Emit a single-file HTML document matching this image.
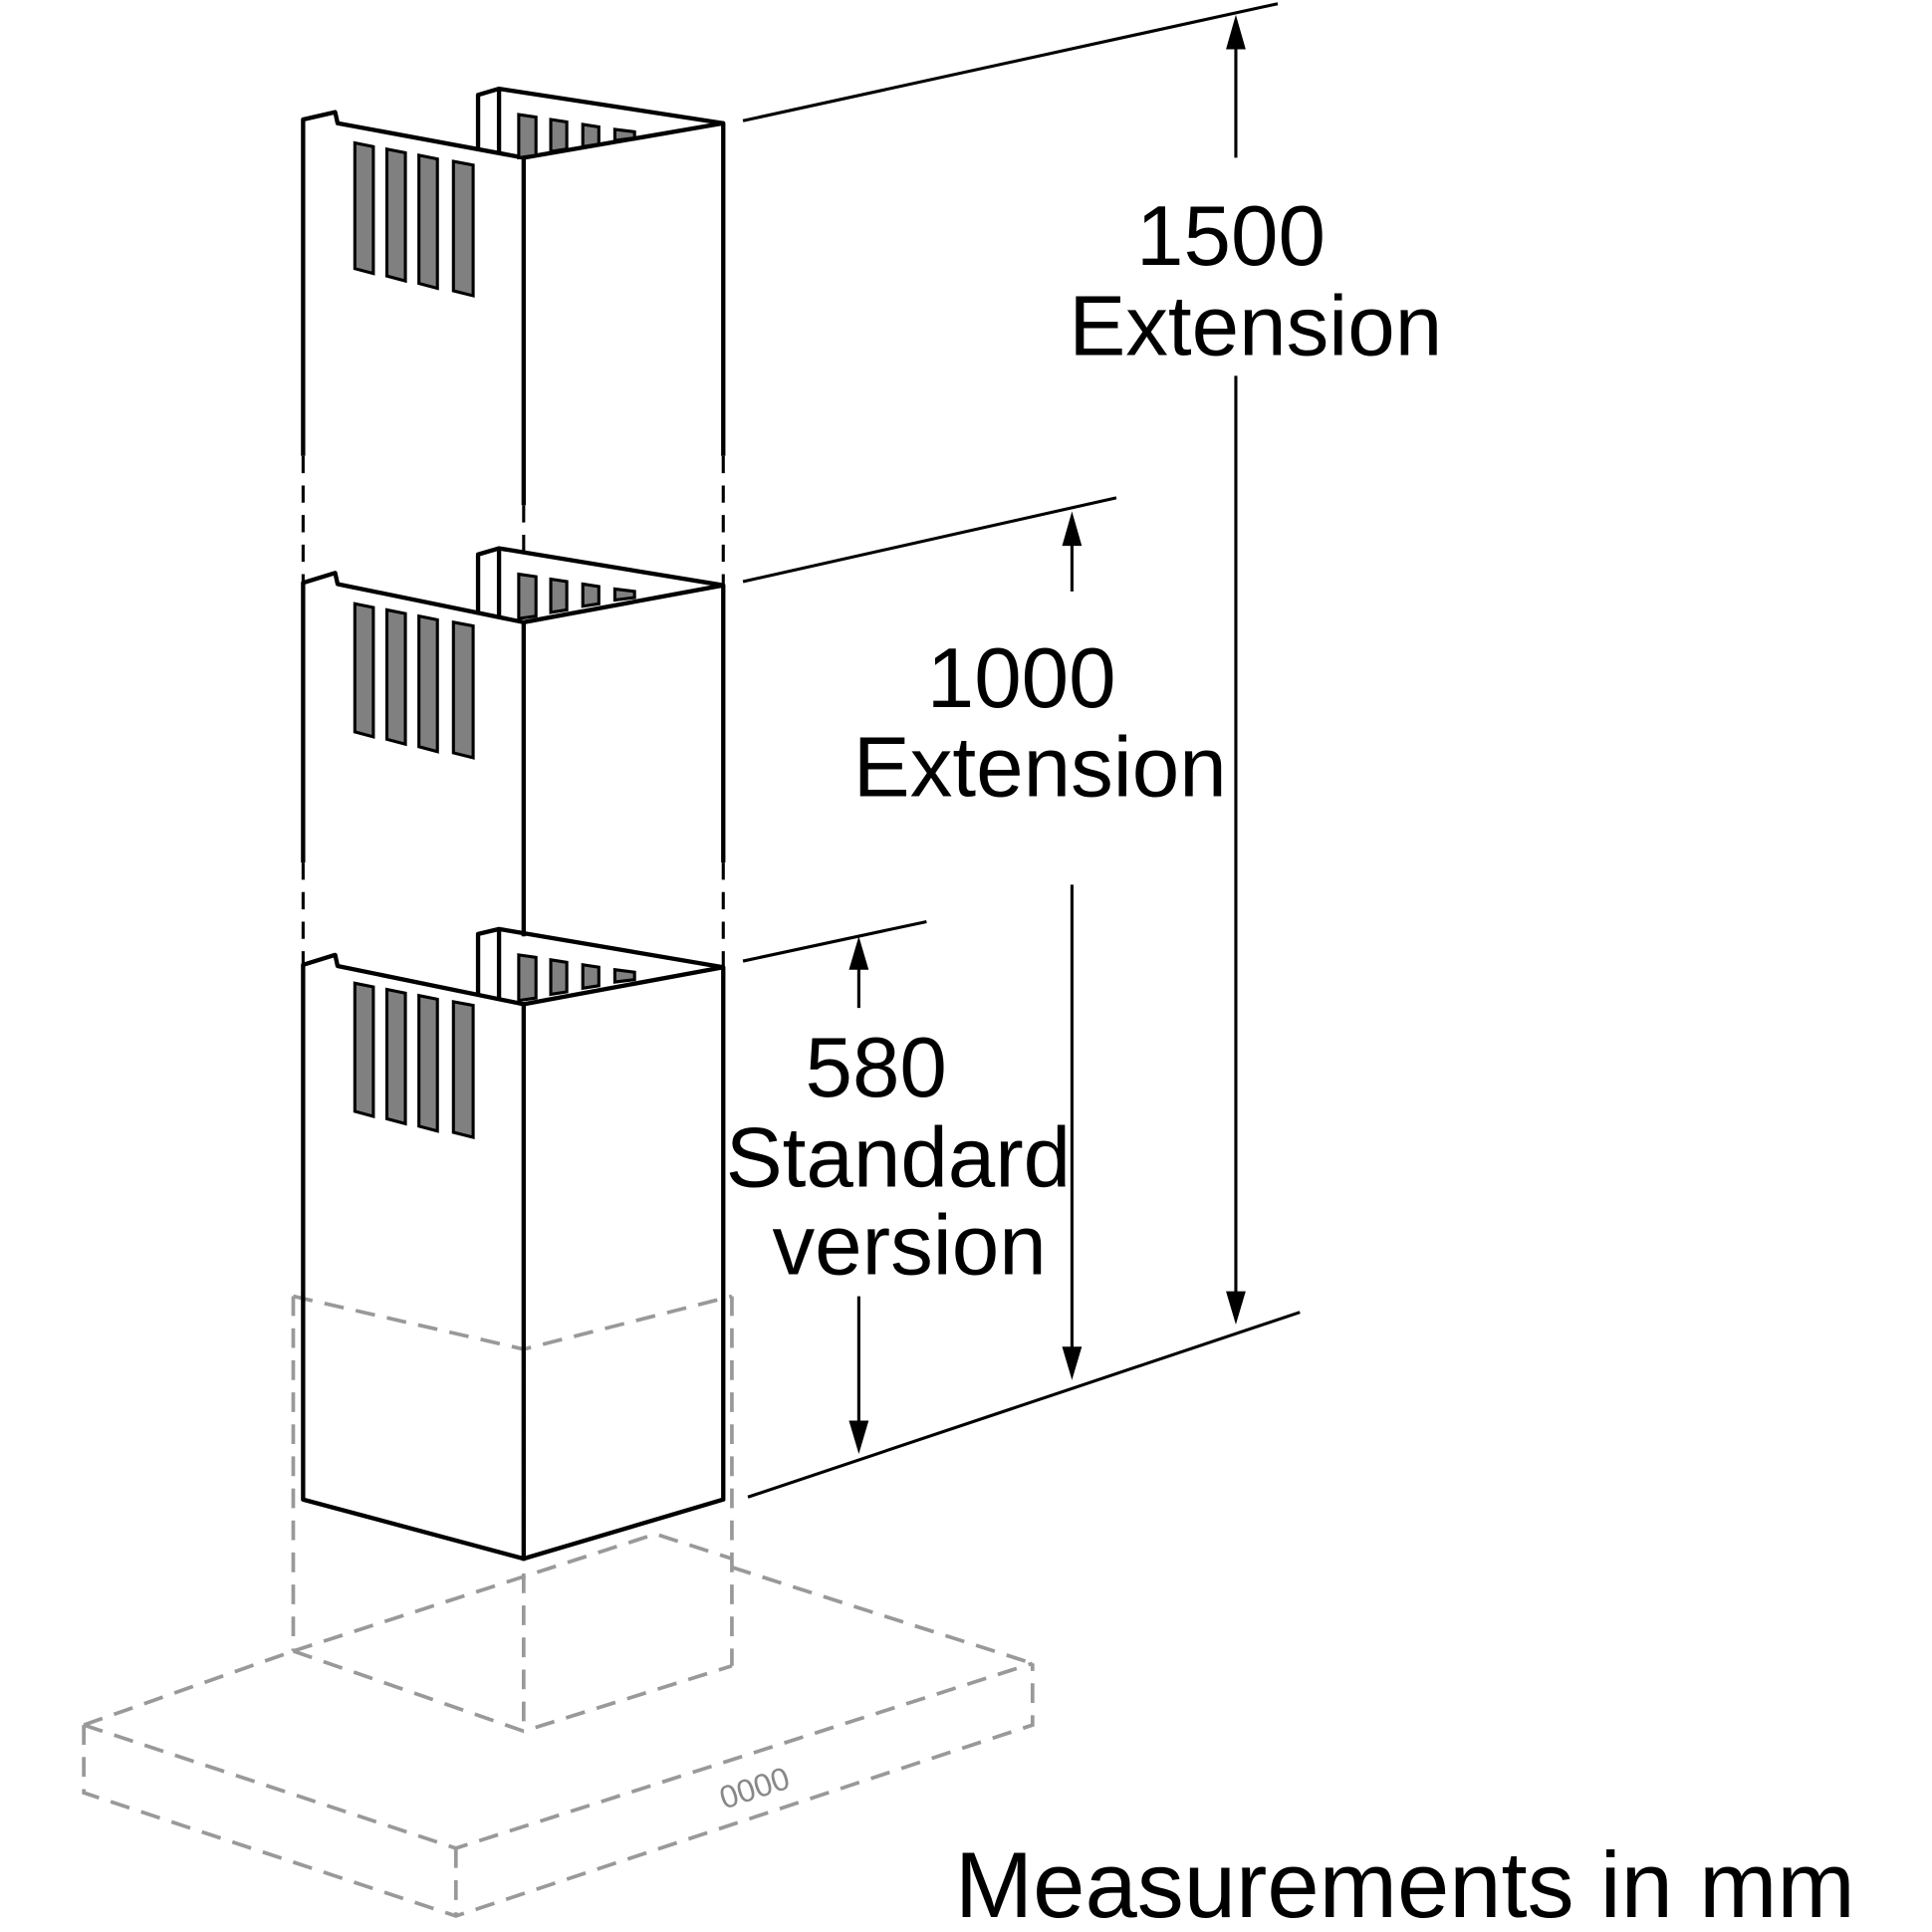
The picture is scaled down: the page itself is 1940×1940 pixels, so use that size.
<!DOCTYPE html>
<html><head><meta charset="utf-8"><style>
html,body{margin:0;padding:0;background:#fff;}
svg{display:block;}
text{font-family:"Liberation Sans",sans-serif;fill:#000;}
</style></head><body>
<svg width="1940" height="1940" viewBox="0 0 1568 1568" xmlns="http://www.w3.org/2000/svg">
<g fill="none" stroke="#999" stroke-width="3" stroke-dasharray="16,10">
<path d="M238,1052 L425,1095 L594,1052"/>
<path d="M238,1052 V1340 M594,1052 V1352 M425,1095 V1405"/>
<path d="M238,1340 L425,1405 L594,1352"/>
<path d="M238,1340 L532,1245 L594,1265"/>
<path d="M68,1400 L238,1340 M594,1272 L838,1350"/>
<path d="M68,1400 L370,1500 L838,1350"/>
<path d="M68,1400 V1455 L370,1555 L838,1400 V1350 M370,1500 V1555"/>
</g>
<text x="612" y="1460" font-size="26" style="fill:#888" transform="rotate(-18 612 1450)" text-anchor="middle">0000</text>

<g fill="none" stroke="#000" stroke-width="3.5" stroke-linejoin="round">
<path d="M246,370 V97 L272,91 L274,100 L425,128 L587,100 V370"/>
<path d="M425,128 V410"/>
<path d="M388,122 V77 L405,72 L587,100 M405,72 V125"/>
<path d="M246,700 V473 L272,465 L274,474 L425,505 L587,475 V700"/>
<path d="M425,505 V760"/>
<path d="M388,498 V450 L405,445 L587,475 M405,445 V500"/>
<path d="M246,783 L272,775 L274,784 L425,815 L587,785 V1217 L425,1265 L246,1217 Z"/>
<path d="M425,815 V1265"/>
<path d="M388,808 V758 L405,754 L587,785 M405,754 V810"/>
</g>
<g stroke="#000" stroke-width="2.5" stroke-dasharray="14,10" fill="none">
<path d="M246,370 V473 M587,370 V475 M425,410 V450"/>
<path d="M246,700 V783 M587,700 V785"/>
</g>
<g fill="#808080" stroke="#000" stroke-width="2.5">
<polygon points="288,116 303,119 303,222 288,218"/>
<polygon points="314,121 329,124 329,228 314,224"/>
<polygon points="340,126 355,129 355,234 340,230"/>
<polygon points="368,131 384,134 384,240 368,236"/>
<polygon points="288,490 303,493 303,598 288,594"/>
<polygon points="314,495 329,498 329,604 314,600"/>
<polygon points="340,500 355,503 355,610 340,606"/>
<polygon points="368,505 384,508 384,615 368,611"/>
<polygon points="288,798 303,801 303,906 288,902"/>
<polygon points="314,803 329,806 329,912 314,908"/>
<polygon points="340,808 355,811 355,918 340,914"/>
<polygon points="368,813 384,816 384,923 368,919"/>
<polygon points="421,93 435,95 435,126 421,128"/>
<polygon points="447,97 460,99 460,121 447,123"/>
<polygon points="473,101 486,103 486,117 473,119"/>
<polygon points="499,105 515,107 515,112 499,114"/>
<polygon points="421,466 435,468 435,500 421,502"/>
<polygon points="447,470 460,472 460,495 447,497"/>
<polygon points="473,474 486,476 486,490 473,492"/>
<polygon points="499,478 515,480 515,485 499,487"/>
<polygon points="421,775 435,777 435,810 421,812"/>
<polygon points="447,779 460,781 460,805 447,807"/>
<polygon points="473,783 486,785 486,800 473,802"/>
<polygon points="499,787 515,789 515,795 499,797"/>
</g>
<g stroke="#000" stroke-width="2.5" fill="none">
<path d="M603,98 L1037,3"/>
<path d="M603,472 L906,404"/>
<path d="M603,780 L752,748"/>
<path d="M607,1215 L1055,1065"/>
<path d="M1003,35 V128 M1003,305 V1052"/>
<path d="M870,440 V480 M870,718 V1098"/>
<path d="M697,782 V818 M697,1052 V1158"/>
</g>
<g fill="#000">
<polygon points="1003,12 995,40 1011,40"/>
<polygon points="1003,1075 995,1048 1011,1048"/>
<polygon points="870,415 862,443 878,443"/>
<polygon points="870,1120 862,1093 878,1093"/>
<polygon points="697,760 689,787 705,787"/>
<polygon points="697,1180 689,1153 705,1153"/>
</g>
<g font-size="69" text-anchor="middle">
<text x="999" y="215">1500</text>
<text x="1019" y="288">Extension</text>
<text x="829" y="574">1000</text>
<text x="844" y="646">Extension</text>
<text x="711" y="890">580</text>
<text x="729" y="963">Standard</text>
<text x="738" y="1034">version</text>
</g>
<text x="775" y="1556" font-size="76">Measurements in mm</text>
</svg>
</body></html>
